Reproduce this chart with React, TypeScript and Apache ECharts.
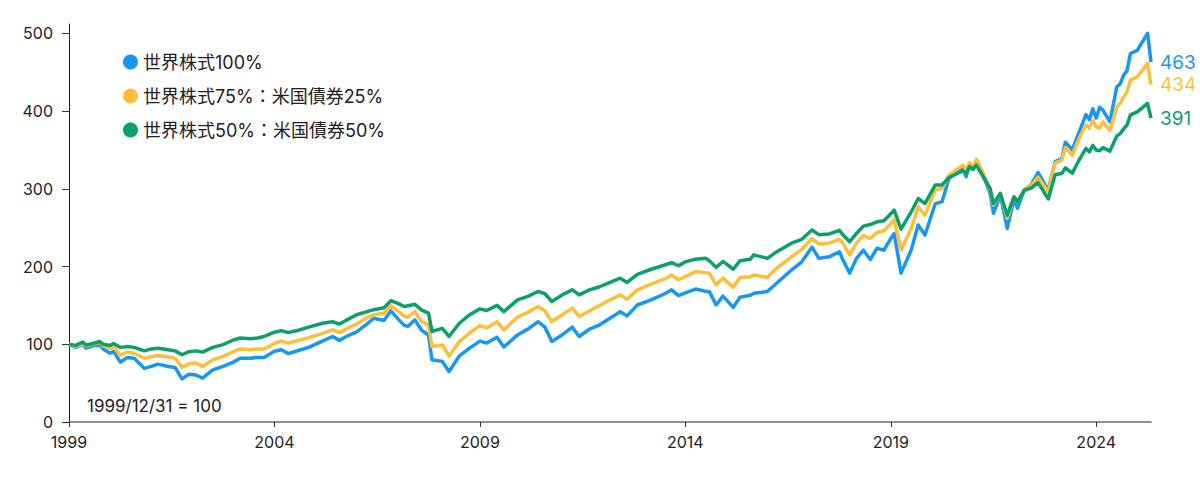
import { useEffect, useRef } from "react";
import * as echarts from "echarts";

// month index counted from 1999/12 (0) — one point per sampled month
const months = [
  0, 2, 4, 5, 7, 9, 10, 12, 13, 15, 17, 19, 22, 24, 26, 29, 31, 33, 35, 37, 39, 42, 45, 48, 50, 53, 55, 57,
  60, 62, 64, 67, 70, 74, 77, 79, 81, 84, 87, 89, 92, 94, 96, 98, 99, 101, 103, 105, 106, 109, 111, 114, 117,
  120, 122, 125, 127, 131, 134, 137, 139, 141, 144, 147, 149, 152, 155, 158, 161, 163, 166, 170, 174, 176, 178,
  180, 183, 186, 187, 189, 191, 194, 196, 199, 200, 204, 206, 211, 214, 217, 219, 222, 225, 226, 228, 230, 232, 234, 236, 238,
  240, 241, 243, 246, 248, 250, 253, 255, 257, 261, 262, 263, 264, 265, 267, 269, 270, 272, 274, 276, 277, 279, 281, 283, 286, 288, 290, 291, 293, 295, 297, 298,
  299, 300, 301, 302, 304, 306, 307, 308, 309, 310, 312, 315, 316,
];

const world100 = [
  100, 96, 100, 95, 98, 99, 94, 88.5, 91, 77, 83, 82, 69, 71.5, 74.5, 71.5, 70, 55.5, 61.5, 60.5, 56.5, 67, 71.5, 77, 82, 82, 83, 83,
  91, 93, 88, 92, 96, 104, 110, 105, 110, 116, 126, 133.5, 130.5, 143, 133, 124, 123, 131.5, 118, 112, 80, 78, 65, 85, 95,
  104, 101.5, 109, 96.5, 112, 119.5, 129, 122, 103.5, 112, 122, 110, 119.5, 125, 133.5, 142, 136.5, 150.5, 157, 165, 170, 162.5,
  166, 171, 168, 168, 150.5, 162, 147.5, 160.5, 163, 165.5, 168, 176, 195.5, 206, 225, 210.5, 212.5, 219, 208.5, 191.5, 210.5, 221, 209, 223.5, 221,
  236, 242.5, 191.5, 221.5, 253.5, 240.5, 281, 283.5, 313.5, 328, 315.5, 330.5, 325, 336, 317.5, 294, 268.5, 292, 249, 287.5, 275, 298.5, 305, 321, 298, 335, 339, 360, 350, 373, 395.5, 389,
  403, 391, 405, 401, 386, 431, 435, 446, 452, 474, 478, 500, 463,
];

const world75 = [
  100, 97, 101, 98, 100, 102.5, 98, 95, 97, 86, 90, 88.5, 82, 84, 85.5, 84, 82, 70.5, 74.5, 76, 71.5, 80, 84.5, 90.5, 94, 93, 94, 94,
  101, 104, 101.5, 105, 108.5, 114, 118.5, 115, 120, 126, 134, 138, 140, 149.5, 143, 136, 135, 142, 129, 125, 97, 99, 85, 103.5, 114.5,
  124, 121, 129, 118.5, 135, 141, 148.5, 143, 129, 138, 146.5, 135.5, 143, 150, 157, 163.5, 158, 170, 177.5, 184, 189, 183,
  187, 193.5, 192, 191.5, 176.5, 185, 173.5, 186, 187, 189, 186, 195.5, 212.5, 222, 236, 229, 230, 235, 230, 215, 230, 240, 236, 244, 246,
  255, 260, 221.5, 249, 277, 266, 298.5, 300.5, 317.5, 330.5, 325, 333.5, 328.5, 338, 320, 298.5, 279, 294, 262, 290, 283, 299, 304, 315, 296, 333, 337, 353, 343, 365, 382, 378,
  388, 380, 378, 386, 375, 405, 410, 418, 425, 440, 444, 461, 434,
];

const world50 = [
  100, 98.5, 103, 99, 101, 103.5, 100, 98.5, 101, 96, 97, 96, 91.5, 94, 95, 93, 91.5, 86.5, 90.5, 91.5, 90, 96, 99.5, 105.5, 108, 107, 108, 110,
  115.5, 117.5, 115, 118, 122, 127, 129, 126, 131, 138, 142, 144.5, 147, 156, 152.5, 148.5, 149.5, 151.5, 144, 140, 116.5, 120.5, 110, 127, 138,
  145.5, 143.5, 150, 142, 157, 161.5, 168, 165, 155, 163.5, 170, 163.5, 170, 174, 179.5, 185, 179.5, 190, 196.5, 202, 205, 201,
  206, 209.5, 210.5, 207.5, 199, 206.5, 196.5, 207.5, 209.5, 215, 210.5, 217, 230, 235, 247, 241, 242, 246.5, 241, 232, 242.5, 252, 254, 257.5, 259,
  268, 272.5, 248, 270.5, 287.5, 281, 305, 305, 314.5, 323, 320, 328.5, 325, 330.5, 315.5, 300.5, 281, 294, 266, 289.5, 283.5, 298, 301, 308, 287, 318, 320, 327, 320, 337, 352, 347.5,
  356, 350, 349, 353, 348.5, 368, 371, 377, 382, 395, 399, 410, 391,
];

const seriesNames = ["世界株式100%", "世界株式75%：米国債券25%", "世界株式50%：米国債券50%"];
const seriesColors = ["#1797f2", "#fdbf3a", "#0aa06a"];
const xTickMonths = [0, 60, 120, 180, 240, 300];
const yTickValues = [0, 100, 200, 300, 400, 500];
const baseYear = 1999;
const noteText = "1999/12/31 = 100";

const FONT = "Inter, 'Noto Sans CJK JP', sans-serif";

export default function App() {
  const ref = useRef<HTMLDivElement>(null);

  useEffect(() => {
    if (!ref.current) return;
    const chart = echarts.init(ref.current, null, { renderer: "svg" });
    const allValues = [world100, world75, world50];

    chart.setOption({
      animation: false,
      backgroundColor: "#ffffff",
      textStyle: { fontFamily: FONT },
      grid: { left: 69, right: 49, top: 24, bottom: 66, containLabel: false },
      legend: {
        data: seriesNames,
        orient: "vertical",
        left: 118,
        top: 47,
        icon: "circle",
        itemWidth: 15,
        itemHeight: 15,
        itemGap: 14,
        selectedMode: false,
        textStyle: { fontSize: 18, color: "#222222", fontFamily: FONT, lineHeight: 20 },
      },
      xAxis: {
        type: "value",
        min: 0,
        max: 316,
        splitLine: { show: false },
        axisLine: { show: true, lineStyle: { color: "#6b6b6b", width: 1.5 } },
        axisTick: { show: true, length: 5, customValues: xTickMonths, lineStyle: { color: "#333333" } },
        axisLabel: {
          customValues: xTickMonths,
          formatter: (v: number) => String(baseYear + Math.round(v / 12)),
          fontSize: 16,
          color: "#222222",
          margin: 12,
          fontFamily: FONT,
        },
      },
      yAxis: {
        type: "value",
        min: 0,
        max: 512,
        splitLine: { show: false },
        axisLine: { show: true, lineStyle: { color: "#222222", width: 1 } },
        axisTick: { show: true, length: 7, customValues: yTickValues, lineStyle: { color: "#333333" } },
        axisLabel: {
          customValues: yTickValues,
          fontSize: 16,
          color: "#222222",
          margin: 16,
          fontFamily: FONT,
        },
      },
      graphic: [
        {
          type: "text",
          left: 87,
          top: 397,
          style: { text: noteText, fontSize: 17, fill: "#222222", fontFamily: FONT },
        },
      ],
      series: allValues.map((vals, i) => ({
        name: seriesNames[i],
        type: "line",
        data: months.map((m, j) => [m, vals[j]]),
        showSymbol: false,
        symbol: "none",
        silent: true,
        z: 2 + i,
        lineStyle: { width: 3.5, color: seriesColors[i], join: "round" },
        itemStyle: { color: seriesColors[i] },
        emphasis: { disabled: true },
        endLabel: {
          show: true,
          formatter: (p: any) => String(p.value[1]),
          color: seriesColors[i],
          fontSize: 19,
          distance: 9,
          fontFamily: FONT,
        },
      })),
    });

    return () => chart.dispose();
  }, []);

  return (
    <div
      ref={ref}
      style={{ position: "fixed", left: 0, top: 0, width: 1200, height: 488, background: "#ffffff" }}
    />
  );
}
